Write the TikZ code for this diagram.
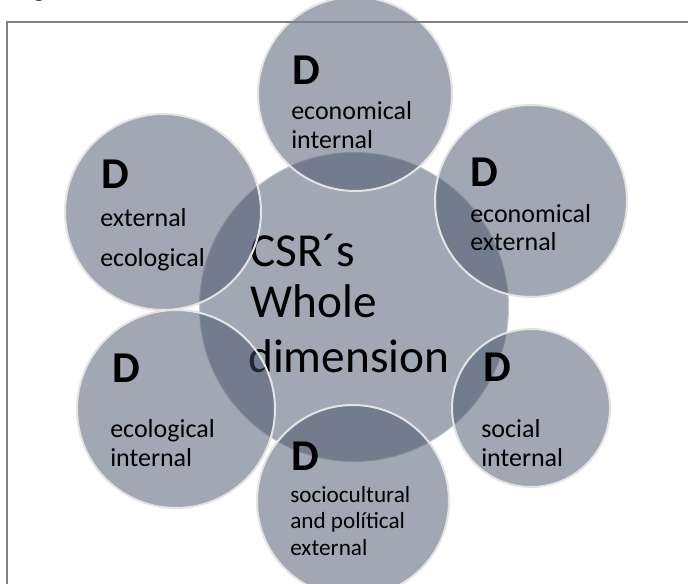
\documentclass[tikz,border=0pt]{standalone}
\usepackage{fontspec}
\setmainfont{Carlito}
\newfontfamily\capfont{Liberation Serif}

\definecolor{slate}{RGB}{69,81,103}
\definecolor{ringgray}{RGB}{228,228,228}
\definecolor{framegray}{RGB}{128,128,128}

\begin{document}
\begin{tikzpicture}[x=0.75pt,y=-0.75pt,
  hub/.style={circle, inner sep=0pt, minimum size=#1*1.5pt,
    fill=slate, fill opacity=0.5, draw=white, draw opacity=0.35, line width=1.5pt},
  petal/.style={circle, inner sep=0pt, minimum size=#1*1.5pt,
    fill=slate, fill opacity=0.5, draw=ringgray, draw opacity=1, line width=1.5pt},
  dmark/.style={anchor=base west, inner sep=0pt, font=\fontsize{33}{33}\selectfont\bfseries},
  lbl/.style={anchor=base west, inner sep=0pt, font=\fontsize{19.5}{22}\selectfont},
  lblsm/.style={anchor=base west, inner sep=0pt, font=\fontsize{17.4}{20}\selectfont},
  hubtxt/.style={anchor=base west, inner sep=0pt, font=\fontsize{35.5}{40}\selectfont},
  frameline/.style={draw=framegray, line width=1.1pt}
]
\useasboundingbox (0,0) rectangle (688,584);

% caption line above the frame
\node[anchor=base west, inner sep=0pt, font=\capfont\fontsize{16.5}{18}\selectfont] (cap) at (15,-3) {Figure};

% central circle and its text
\node[hub=155] (whole) at (354,307) {};
\node[hubtxt] (w1) at (250,267) {CSR´s};
\node[hubtxt] (w2) at (250,317) {Whole};
\node[hubtxt] (w3) at (248,372) {dimension};

% the six dimension circles
\node[petal=97] (ecoint) at (355,94) {};
\node[petal=96] (ecoext) at (531,201) {};
\node[petal=98] (ecolext) at (163,212) {};
\node[petal=99] (ecolint) at (176,409) {};
\node[petal=79] (socint) at (531,408) {};
\node[petal=96] (socpol) at (353,501) {};

% economical internal
\node[dmark] (d1) at (292,85) {D};
\node[lbl] (t1a) at (291,120) {economical};
\node[lbl] (t1b) at (291,149) {internal};

% economical external
\node[dmark] (d2) at (470,187) {D};
\node[lbl] (t2a) at (470,223) {economical};
\node[lbl] (t2b) at (470,251) {external};

% external ecological
\node[dmark] (d3) at (101,189) {D};
\node[lbl] (t3a) at (100,227) {external};
\node[lbl] (t3b) at (100,267) {ecological};

% ecological internal
\node[dmark] (d4) at (112,382) {D};
\node[lbl] (t4a) at (110,437) {ecological};
\node[lbl] (t4b) at (110,466) {internal};

% social internal
\node[dmark] (d5) at (483,381) {D};
\node[lbl] (t5a) at (481,437) {social};
\node[lbl] (t5b) at (481,466) {internal};

% sociocultural and political external
\node[dmark] (d6) at (291,470) {D};
\node[lblsm] (t6a) at (290,502) {sociocultural};
\node[lblsm] (t6b) at (290,528) {and polítical};
\node[lblsm] (t6c) at (290,555) {external};

% frame: top and left edges
\coordinate (fr) at (688,22);
\coordinate (fc) at (7,22);
\coordinate (fb) at (7,584);
\draw[frameline] (fr) -- (fc) -- (fb);
\end{tikzpicture}
\end{document}
